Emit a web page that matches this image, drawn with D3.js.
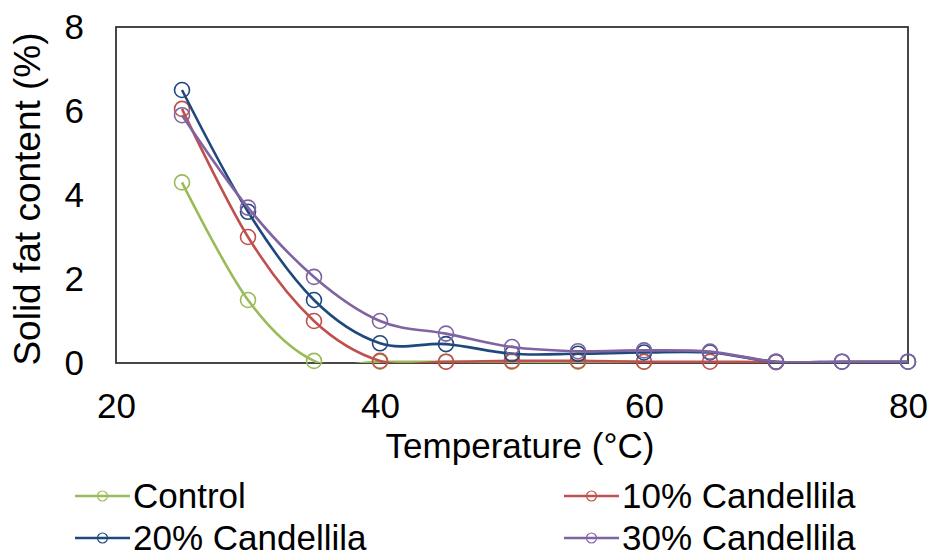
<!DOCTYPE html>
<html lang="en">
<head>
    <meta charset="UTF-8">
    <title>Solid fat content</title>
    <script src="https://d3js.org/d3.v7.min.js"></script>
    <style>
        body { margin: 0; background: #fff; font-family: "Liberation Sans", Arial, sans-serif; }
        svg text { fill: #000; }
    </style>
</head>
<body>
    <div id="chart"></div>

    <script>
        // data
        const temps = [25, 30, 35, 40, 45, 50, 55, 60, 65, 70, 75, 80];
        const control = [4.3, 1.5, 0.05, 0.03, 0.03, 0.03, 0.03, 0.03];
        const candellila10 = [6.05, 3.0, 1.0, 0.05, 0.03, 0.05, 0.05, 0.03, 0.03, 0.02];
        const candellila20 = [6.5, 3.6, 1.5, 0.47, 0.45, 0.22, 0.22, 0.25, 0.25, 0.03, 0.03, 0.03];
        const candellila30 = [5.9, 3.7, 2.05, 1.0, 0.7, 0.38, 0.28, 0.3, 0.27, 0.03, 0.03, 0.03];
        const seriesNames = ["Control", "10% Candellila", "20% Candellila", "30% Candellila"];
        const seriesColors = ["#9BBB59", "#C0504D", "#1F497D", "#8064A2"];
        const xTicks = [20, 40, 60, 80];
        const yTicks = [0, 2, 4, 6, 8];

        const series = [control, candellila10, candellila20, candellila30].map((vals, i) => ({
            name: seriesNames[i],
            color: seriesColors[i],
            points: vals.map((v, j) => ({ t: temps[j], v: v }))
        }));

        const W = 932, H = 557;
        const svg = d3.select("#chart").append("svg")
            .attr("width", W)
            .attr("height", H);

        const x = d3.scaleLinear().domain([20, 80]).range([116, 908]);
        const y = d3.scaleLinear().domain([0, 8]).range([363, 27]);

        // lines are clipped to the plot area, markers are not
        svg.append("clipPath").attr("id", "plotClip")
            .append("rect")
            .attr("x", x(20))
            .attr("y", y(8))
            .attr("width", x(80) - x(20))
            .attr("height", y(0) - y(8));

        // plot area frame
        svg.append("rect")
            .attr("x", x(20))
            .attr("y", y(8))
            .attr("width", x(80) - x(20))
            .attr("height", y(0) - y(8))
            .attr("fill", "none")
            .attr("stroke", "#333")
            .attr("stroke-width", 1.8);

        const xAxis = svg.append("g")
            .attr("transform", `translate(0,${y(0)})`)
            .call(d3.axisBottom(x).tickValues(xTicks).tickSize(0).tickPadding(30));
        xAxis.select(".domain").remove();
        xAxis.selectAll("text").style("font-size", "35px").attr("font-family", "Liberation Sans, Arial, sans-serif");

        const yAxis = svg.append("g")
            .attr("transform", `translate(${x(20)},0)`)
            .call(d3.axisLeft(y).tickValues(yTicks).tickSize(0).tickPadding(32));
        yAxis.select(".domain").remove();
        yAxis.selectAll("text").style("font-size", "35px").attr("font-family", "Liberation Sans, Arial, sans-serif");

        svg.append("text")
            .attr("x", 520)
            .attr("y", 458)
            .attr("text-anchor", "middle")
            .style("font-size", "35px")
            .text("Temperature (°C)");

        svg.append("text")
            .attr("transform", `translate(40,199) rotate(-90)`)
            .attr("text-anchor", "middle")
            .style("font-size", "37px")
            .text("Solid fat content (%)");

        const line = d3.line()
            .x(d => x(d.t))
            .y(d => y(d.v))
            .curve(d3.curveCardinal.tension(0));

        series.forEach(s => {
            const g = svg.append("g");
            g.append("path")
                .datum(s.points)
                .attr("clip-path", "url(#plotClip)")
                .attr("fill", "none")
                .attr("stroke", s.color)
                .attr("stroke-width", 2.6)
                .attr("d", line);
            g.selectAll("circle")
                .data(s.points)
                .enter().append("circle")
                .attr("cx", d => x(d.t))
                .attr("cy", d => y(d.v))
                .attr("r", 7.5)
                .attr("fill", "none")
                .attr("stroke", s.color)
                .attr("stroke-width", 1.6);
        });

        // legend, two columns
        const legendPos = [[75, 496], [564, 496], [75, 538], [564, 538]];
        series.forEach((s, i) => {
            const [lx, ly] = legendPos[i];
            const g = svg.append("g").attr("transform", `translate(${lx},${ly})`);
            g.append("line")
                .attr("x1", 0).attr("x2", 55)
                .attr("stroke", s.color)
                .attr("stroke-width", 2.6);
            g.append("circle")
                .attr("cx", 27.5)
                .attr("r", 5)
                .attr("fill", "none")
                .attr("stroke", s.color)
                .attr("stroke-width", 1.2);
            g.append("text")
                .attr("x", 58)
                .attr("y", 12)
                .style("font-size", "35px")
                .text(s.name);
        });
    </script>
</body>
</html>
